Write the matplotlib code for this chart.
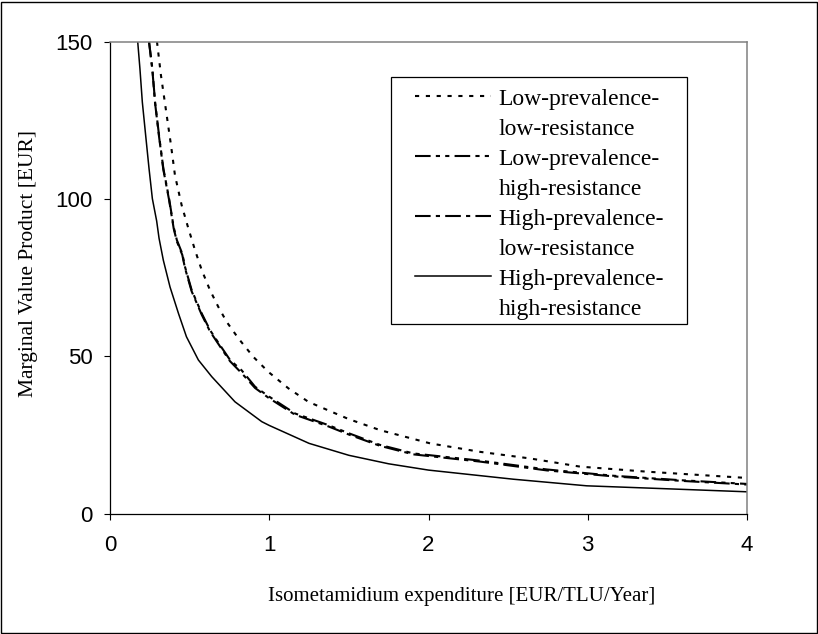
import matplotlib
matplotlib.use("Agg")
import matplotlib.pyplot as plt
from matplotlib.lines import Line2D
from matplotlib.patches import Rectangle

# ---- data ----
x_lowprev_lowres = [0.295, 0.32, 0.341, 0.362, 0.383, 0.408, 0.45, 0.49, 0.534, 0.576,
                    0.628, 0.68, 0.733, 0.806, 0.90, 0.995, 1.12, 1.246, 1.393, 1.50,
                    1.696, 2.01, 2.324, 2.638, 2.952, 3.371, 4.0]
y_lowprev_lowres = [150, 139.3, 131.9, 124.5, 117.1, 107.5, 98.0, 91.0, 83.7, 77.4,
                    71.0, 65.7, 60.9, 55.7, 49.8, 45.0, 39.8, 35.5, 32.3, 30.0,
                    26.5, 22.3, 19.6, 17.5, 14.9, 13.3, 11.3]

x_lowprev_highres = [0.245, 0.266, 0.283, 0.308, 0.335, 0.371, 0.40, 0.42, 0.454, 0.471,
                     0.513, 0.576, 0.628, 0.691, 0.754, 0.827, 0.911, 0.995, 1.162, 1.371,
                     1.50, 1.696, 1.905, 2.324, 2.743, 3.162, 3.58, 4.0]
y_lowprev_highres = [150, 141.4, 130.8, 120.2, 109.7, 100.1, 91.0, 86.9, 82.6, 78.4,
                     71.0, 63.6, 58.3, 53.5, 48.8, 45.5, 40.3, 37.3, 31.8, 28.1,
                     25.5, 21.8, 19.1, 16.8, 14.0, 12.0, 10.6, 9.4]

x_highprev_lowres = [0.245, 0.266, 0.283, 0.308, 0.335, 0.371, 0.40, 0.42, 0.454, 0.471,
                     0.513, 0.576, 0.628, 0.691, 0.754, 0.827, 0.911, 0.995, 1.162, 1.371,
                     1.50, 1.696, 1.905, 2.324, 2.743, 3.162, 3.58, 4.0]
y_highprev_lowres = [150, 141.0, 130.5, 119.8, 109.3, 99.7, 90.6, 86.5, 82.2, 78.0,
                     70.6, 63.2, 57.9, 53.1, 48.4, 44.6, 39.9, 36.8, 31.4, 27.7,
                     25.1, 21.5, 18.8, 16.5, 13.7, 11.8, 10.4, 9.2]

x_highprev_highres = [0.174, 0.188, 0.203, 0.224, 0.245, 0.266, 0.293, 0.308, 0.335, 0.377,
                      0.43, 0.48, 0.555, 0.639, 0.785, 0.953, 1.0, 1.25, 1.5, 1.75,
                      2.0, 2.533, 2.994, 3.476, 4.0]
y_highprev_highres = [150, 141.4, 130.8, 120.2, 109.7, 100.1, 93.0, 87.5, 80.5, 72.0,
                      63.6, 56.2, 48.8, 43.5, 35.5, 29.2, 28.0, 22.3, 18.5, 15.8,
                      13.8, 10.9, 8.8, 7.9, 6.9]

labels = [("Low-prevalence-", "low-resistance"),
          ("Low-prevalence-", "high-resistance"),
          ("High-prevalence-", "low-resistance"),
          ("High-prevalence-", "high-resistance")]

x_ticks = [0, 1, 2, 3, 4]
y_ticks = [0, 50, 100, 150]

# ---- figure ----
W, H = 818, 634
fig = plt.figure(figsize=(W / 100, H / 100), dpi=100)
ax_left, ax_right = 110 / W, 747 / W
ax_top, ax_bottom = 1 - 41.7 / H, 1 - 513.5 / H
ax = fig.add_axes([ax_left, ax_bottom, ax_right - ax_left, ax_top - ax_bottom])

serif = "Liberation Serif"
sans = "Liberation Sans"

styles = [
    dict(color="black", lw=1.5, linestyle=(0, (2, 3.2))),
    dict(color="black", lw=1.5, linestyle=(0, (7.5, 2.5, 2, 2.5, 2, 2.5))),
    dict(color="black", lw=1.5, linestyle=(0, (7.5, 2.5, 2, 2.5))),
    dict(color="black", lw=1.1, linestyle="-"),
]
series = [(x_lowprev_lowres, y_lowprev_lowres),
          (x_lowprev_highres, y_lowprev_highres),
          (x_highprev_lowres, y_highprev_lowres),
          (x_highprev_highres, y_highprev_highres)]

handles = []
leg_labels = []
for (xs, ys), st, (l1, l2) in zip(series, styles, labels):
    ln, = ax.plot(xs, ys, **st)
    handles.append(ln)
    leg_labels.append(l1)
    handles.append(Line2D([], [], linestyle="none"))
    leg_labels.append(l2)

ax.set_xlim(0, 4)
ax.set_ylim(0, 150)
ax.set_xticks(x_ticks)
ax.set_yticks(y_ticks)
ax.tick_params(axis="both", direction="out", length=4.3, width=0.8, color="black",
               labelsize=16)
ax.tick_params(axis="x", pad=11)
ax.tick_params(axis="y", pad=8)
for lab in ax.get_xticklabels() + ax.get_yticklabels():
    lab.set_family(sans)

for s in ["left", "bottom"]:
    ax.spines[s].set_color("black")
    ax.spines[s].set_linewidth(0.9)
for s in ["top", "right"]:
    ax.spines[s].set_color("#808080")
    ax.spines[s].set_linewidth(1.1)

ax.set_xlabel("Isometamidium expenditure [EUR/TLU/Year]", family=serif, fontsize=15)
ax.xaxis.set_label_coords((462 - 110) / 637, (513.5 - 597) / 471.8)
ax.xaxis.label.set_va("center")
ax.set_ylabel("Marginal Value Product [EUR]", family=serif, fontsize=15.5)
ax.yaxis.set_label_coords((28.3 - 110) / 637, (513.5 - 264) / 471.8)
ax.yaxis.label.set_va("center")

# legend box
bx0, bx1 = (391 - 110) / 637, (687 - 110) / 637
by0, by1 = (513.5 - 324) / 471.8, (513.5 - 77) / 471.8
ax.add_patch(Rectangle((bx0, by0), bx1 - bx0, by1 - by0, transform=ax.transAxes,
                       fill=False, edgecolor="black", lw=0.9, zorder=5))
leg = ax.legend(handles, leg_labels, loc="upper left",
                bbox_to_anchor=((415 - 110) / 637, (513.5 - 88) / 471.8),
                frameon=False, borderpad=0, borderaxespad=0,
                handlelength=3.2, handletextpad=0.35, labelspacing=0.36,
                prop={"family": serif, "size": 17})

# outer figure border
fig.add_artist(Rectangle((0.6 / W, 1.5 / H), (816.5 - 0.6) / W, (633 - 1.5 - 0.5) / H,
                         transform=fig.transFigure, fill=False,
                         edgecolor="black", lw=1.0))

fig.savefig("out.png", dpi=100)
